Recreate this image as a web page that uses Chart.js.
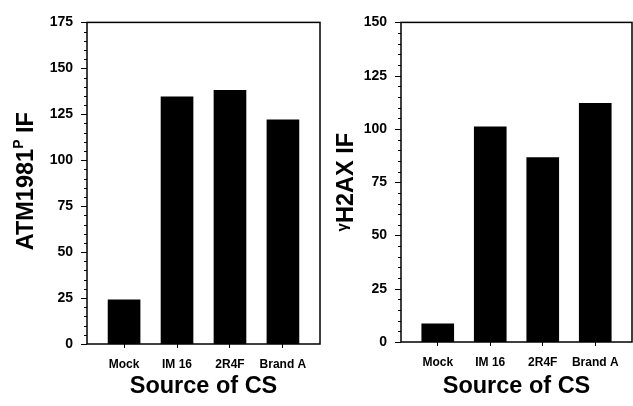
<!DOCTYPE html>
<html>
<head>
<meta charset="utf-8">
<script src="https://cdn.jsdelivr.net/npm/chart.js@4.4.1/dist/chart.umd.min.js"></script>
<style>
  html, body { margin: 0; padding: 0; background: #fff; }
  #wrap { position: relative; width: 633px; height: 406px; }
  canvas { position: absolute; top: 0; }
  #leftChart { left: 0; }
  #rightChart { left: 322px; }
</style>
</head>
<body>
<div id="wrap">
  <canvas id="leftChart" width="322" height="406"></canvas>
  <canvas id="rightChart" width="311" height="406"></canvas>
</div>
<script>
const sources = ['Mock', 'IM 16', '2R4F', 'Brand A'];
const atmValues = [24, 134.5, 138, 122];
const h2axValues = [8.5, 101, 86.5, 112];
const atmMax = 175;
const h2axMax = 150;
const majorStep = 25;
const minorStep = 5;

Chart.defaults.font.family = "'Liberation Sans', Arial, sans-serif";
Chart.defaults.color = '#000';

// rotated y title with super/sub-script pieces
const yTitlePlugin = {
  id: 'yTitle',
  afterDraw(chart, args, opts) {
    const ctx = chart.ctx;
    const area = chart.chartArea;
    ctx.save();
    ctx.fillStyle = '#000';
    ctx.translate(opts.x, (area.top + area.bottom) / 2 + opts.shift);
    ctx.rotate(-Math.PI / 2);
    ctx.textBaseline = 'alphabetic';
    ctx.textAlign = 'left';
    let total = 0;
    opts.parts.forEach(p => {
      ctx.font = 'bold ' + p.size + "px 'Liberation Sans', Arial, sans-serif";
      p.w = ctx.measureText(p.t).width;
      total += p.w;
    });
    let x = -total / 2;
    opts.parts.forEach(p => {
      ctx.font = 'bold ' + p.size + "px 'Liberation Sans', Arial, sans-serif";
      ctx.fillText(p.t, x, -p.rise);
      x += p.w;
    });
    ctx.restore();
  }
};

// frame + minor/major y ticks
const framePlugin = {
  id: 'frame',
  afterDraw(chart) {
    const ctx = chart.ctx;
    const area = chart.chartArea;
    const y = chart.scales.y;
    ctx.save();
    ctx.strokeStyle = '#000';
    ctx.lineWidth = 1;
    for (let v = 0; v <= y.max; v += minorStep) {
      const py = Math.round(y.getPixelForValue(v)) + 0.5;
      const len = v % majorStep === 0 ? 6 : 3;
      ctx.beginPath();
      ctx.moveTo(area.left - len, py);
      ctx.lineTo(area.left, py);
      ctx.stroke();
    }
    ctx.lineWidth = 1.5;
    ctx.strokeRect(area.left, area.top, area.right - area.left, area.bottom - area.top);
    ctx.restore();
  }
};

function makeChart(id, values, yMax, pad, yWidth, xHeight, titleParts, titleX, titleShift) {
  return new Chart(document.getElementById(id), {
    type: 'bar',
    data: {
      datasets: [{
        data: values.map((v, i) => ({ x: i, y: v })),
        backgroundColor: '#000',
        borderColor: '#000',
        borderWidth: 0,
        barThickness: 32
      }]
    },
    options: {
      responsive: false,
      animation: false,
      devicePixelRatio: 1,
      layout: { padding: pad },
      plugins: {
        legend: { display: false },
        tooltip: { enabled: false },
        yTitle: { parts: titleParts, x: titleX, shift: titleShift }
      },
      scales: {
        x: {
          type: 'linear',
          offset: false,
          min: -0.7,
          max: sources.length - 0.3,
          afterBuildTicks: s => { s.ticks = sources.map((_, i) => ({ value: i })); },
          afterFit: s => { s.height = xHeight; },
          grid: { display: true, drawOnChartArea: false, offset: false, tickLength: 4, color: '#000' },
          border: { display: false },
          ticks: {
            padding: 9,
            maxRotation: 0,
            font: { size: 12, weight: 'bold' },
            callback: v => sources[v]
          },
          title: {
            display: true,
            text: 'Source of CS',
            font: { size: 23.5, weight: 'bold' },
            padding: { top: 0, bottom: 5 }
          }
        },
        y: {
          min: 0,
          max: yMax,
          afterFit: s => { s.width = yWidth; },
          grid: { display: false, drawTicks: false },
          border: { display: false },
          ticks: {
            stepSize: majorStep,
            padding: 14,
            font: { size: 14, weight: 'bold' }
          }
        }
      }
    },
    plugins: [yTitlePlugin, framePlugin]
  });
}

makeChart('leftChart', atmValues, atmMax, { top: 19, right: 2, left: 0, bottom: 0 }, 87, 62,
  [{ t: 'ATM1981', size: 23.5, rise: 0 }, { t: 'P', size: 14, rise: 10 }, { t: ' IF', size: 23.5, rise: 0 }], 33, -2);
makeChart('rightChart', h2axValues, h2axMax, { top: 16, right: 1, left: 0, bottom: 0 }, 79, 64,
  [{ t: 'γ', size: 15, rise: 6 }, { t: 'H2AX IF', size: 23.5, rise: 0 }], 31, 0);
</script>
</body>
</html>
